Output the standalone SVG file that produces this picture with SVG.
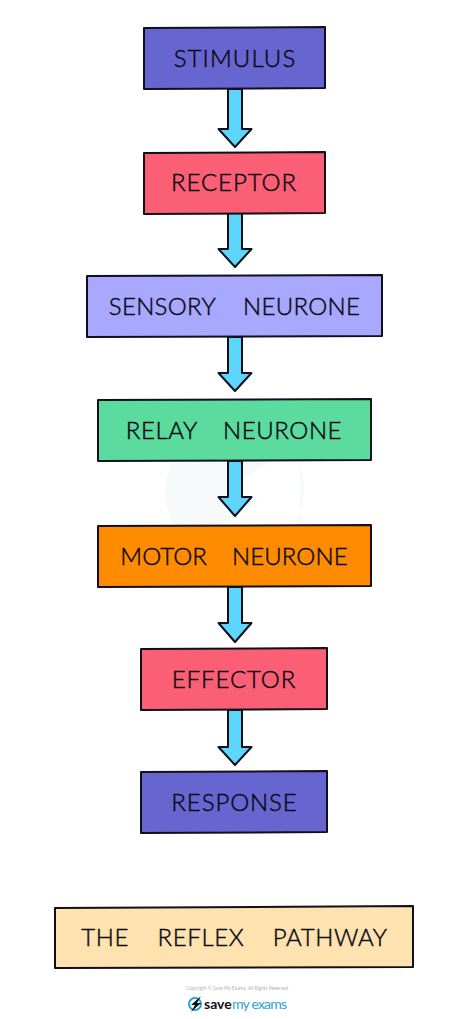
<svg xmlns="http://www.w3.org/2000/svg" width="474" height="1019" viewBox="0 0 474 1019">
<style>
.b{stroke:#10101c;stroke-width:2;stroke-linejoin:round}
.t{font-family:"Lato","Liberation Sans",sans-serif;font-weight:300;font-size:24px;fill:#0a0a14;stroke:#0a0a14;stroke-width:.45px;text-anchor:middle;letter-spacing:.9px;white-space:pre}
.a{fill:#5cd6fb;stroke:#10101c;stroke-width:2;stroke-linejoin:round}
</style>
<rect width="474" height="1019" fill="#fff"/>
<g id="watermark" fill="#f6fafb">
<path d="M165 490A70 70 0 0 1 290 450L225 490L260 500L190 545A70 70 0 0 1 165 490Z"/>
<path d="M300 465A70 70 0 0 1 255 555L300 520Z"/>
</g>
<g id="connectors" class="a">
<path d="M228 89V129H218.500L235 147L251.500 129H242V89Z"/>
<path d="M228 213V249H218.500L235 267L251.500 249H242V213Z"/>
<path d="M228 337V373H218.500L235 391L251.500 373H242V337Z"/>
<path d="M228 461V497H218.500L235 516L251.500 497H242V461Z"/>
<path d="M228 587V623H218.500L235 642L251.500 623H242V587Z"/>
<path d="M228 710V747H218.500L235 765L251.500 747H242V710Z"/>
</g>
<g id="stimulus"><path class="b" fill="#6766d0" d="M144 28L325 27L325 88L144 89Z"/><text class="t" x="235" y="67" style="letter-spacing:1.100px">STIMULUS</text></g>
<g id="receptor"><path class="b" fill="#fb5f76" d="M144 153L325 152L325 213L144 214Z"/><text class="t" x="234" y="191">RECEPTOR</text></g>
<g id="sensory"><path class="b" fill="#a8a8fe" d="M87 276L382 275L382 336L87 337Z"/><text class="t" x="234.500" y="315" xml:space="preserve" style="letter-spacing:.3px;word-spacing:2.500px">SENSORY   NEURONE</text></g>
<g id="relay"><path class="b" fill="#5cdb9e" d="M98 400L371 399L371 460L98 461Z"/><text class="t" x="234" y="439" xml:space="preserve" style="letter-spacing:.6px;word-spacing:1.500px">RELAY   NEURONE</text></g>
<g id="motor"><path class="b" fill="#ff8c00" d="M98 526L371 525L371 586L98 587Z"/><text class="t" x="234" y="565" xml:space="preserve" style="letter-spacing:.1px;word-spacing:1.700px">MOTOR   NEURONE</text></g>
<g id="effector"><path class="b" fill="#fb5f76" d="M141 649L327 648L327 709L141 710Z"/><text class="t" x="234" y="688">EFFECTOR</text></g>
<g id="response"><path class="b" fill="#6766d0" d="M141 772L327 771L327 832L141 833Z"/><text class="t" x="234.500" y="811">RESPONSE</text></g>
<g id="title"><path class="b" fill="#fee3b0" d="M55 908L413 906L413 967L55 968Z"/><text class="t" x="234.500" y="946" xml:space="preserve" style="letter-spacing:.6px;word-spacing:2.400px">THE   REFLEX   PATHWAY</text></g>
<g id="footer">
<text x="237" y="990" font-family="Lato,'Liberation Sans',sans-serif" font-size="4.800" fill="#b4b4b4" text-anchor="middle">Copyright © Save My Exams. All Rights Reserved</text>
<circle cx="195" cy="1004" r="6" fill="none" stroke="#2a9fd8" stroke-width="2"/>
<path d="M201 996L191 1005H195L191 1012L201 1003H197Z" fill="#111"/>
<text x="204" y="1009" font-family="Lato,'Liberation Sans',sans-serif" font-size="14" font-weight="700" fill="#111">save</text>
<text x="232" y="1009" font-family="Lato,'Liberation Sans',sans-serif" font-size="14" font-weight="400" fill="#2a9fd8" textLength="55">my exams</text>
</g>
</svg>
